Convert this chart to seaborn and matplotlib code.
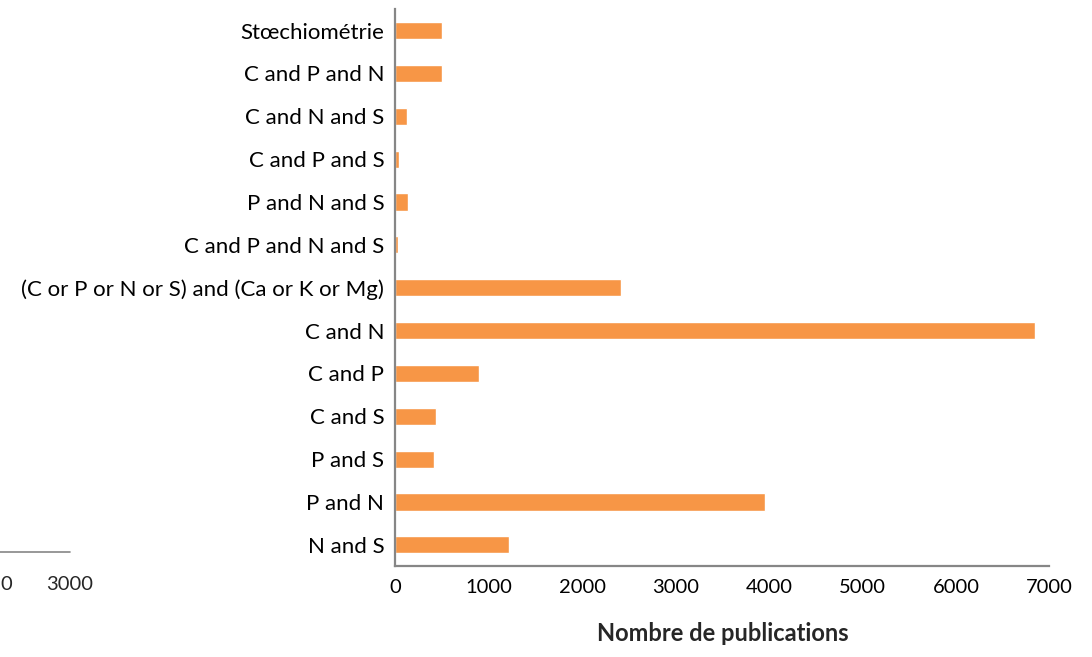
import matplotlib
matplotlib.use("Agg")
import matplotlib.pyplot as plt
from matplotlib.lines import Line2D
import pandas as pd
import seaborn as sns

# data, top to bottom as shown
categories = [
    "Stœchiométrie",
    "C and P and N",
    "C and N and S",
    "C and P and S",
    "P and N and S",
    "C and P and N and S",
    "(C or P or N or S) and (Ca or K or Mg)",
    "C and N",
    "C and P",
    "C and S",
    "P and S",
    "P and N",
    "N and S",
]
publications = [500, 500, 120, 40, 140, 30, 2420, 6850, 900, 440, 410, 3960, 1220]
x_ticks = [0, 1000, 2000, 3000, 4000, 5000, 6000, 7000]

df = pd.DataFrame({"categorie": categories, "publications": publications})

sns.set_style("white")
plt.rcParams["font.family"] = ["Lato", "DejaVu Sans"]

fig = plt.figure(figsize=(10.92, 6.57), dpi=100)
ax = fig.add_axes([0.362, 0.138, 0.599, 0.848])

sns.barplot(data=df, y="categorie", x="publications", orient="h",
            color="#F79646", width=0.4, saturation=1, ax=ax)

ax.set_xlim(0, 7000)
ax.set_ylim(12.5, -0.5)
ax.set_xticks(x_ticks)
ax.set_xticklabels([str(t) for t in x_ticks])
ax.tick_params(axis="both", length=0, colors="#000000")
ax.tick_params(axis="x", pad=9, labelsize=14.5)
ax.tick_params(axis="y", pad=8, labelsize=16)
ax.set_ylabel("")
ax.set_xlabel("Nombre de publications", fontsize=17, fontweight="bold", labelpad=19)

for side in ["top", "right"]:
    ax.spines[side].set_visible(False)
for side in ["left", "bottom"]:
    ax.spines[side].set_color("#868686")
    ax.spines[side].set_linewidth(1.6)

# leftover fragment of another chart at bottom left
fig.add_artist(Line2D([0, 70 / 1092], [1 - 552 / 657, 1 - 552 / 657],
                      color="#868686", linewidth=1.2, transform=fig.transFigure))
fig.text(6 / 1092, 1 - 585 / 657, "0", fontsize=14.5, ha="center", va="center")
fig.text(70 / 1092, 1 - 585 / 657, "3000", fontsize=14.5, ha="center", va="center")

fig.savefig("out.png", dpi=100)
